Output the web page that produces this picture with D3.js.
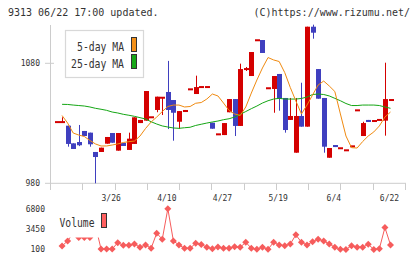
<!DOCTYPE html>
<html>
<head>
<meta charset="utf-8">
<script src="https://cdn.jsdelivr.net/npm/d3@7"></script>
<style>
  body { margin: 0; background: #fff; }
  svg { display: block; }
  text { font-family: "DejaVu Sans Mono", monospace; fill: #333; }
</style>
</head>
<body>
<script>
// candles, oldest first
var opens  = [1031,1031,1028,1013.3,1014.4,1023.6,1022.2,1006.1,1006.1,1013,1021.9,1007.2,1013.6,1007.8,1012.8,1030.2,1032.2,1035,1041.1,1051.3,
              1056.1,1049.4,1031.3,1039.4,1058.3,1054.4,1060.2,1060.2,1030.5,1020.8,1020.2,1039.2,1050.2,1027.8,1075.2,1069.4,1099.2,1099.4,1059.2,1058.6,
              1071.1,1051.1,1032.8,1005.5,1036.1,1027.2,1110.5,1075.2,1051.1,1001.3,1011.9,1009.2,1007.5,1010.8,1040.8,1019.4,1032.8,1031.9,1032.8,1032.2,1049.4];
var highs  = [1031,1035,1028,1013.3,1028.6,1023.6,1022.2,1006.1,1009.7,1018.6,1021.9,1021.9,1013.6,1022.2,1035,1032.8,1056.9,1035,1052.2,1051.3,
              1082,1049.4,1040.2,1041.1,1058.3,1069.7,1060.2,1060.2,1030.5,1020.8,1030.2,1050.2,1050.2,1079.7,1076.9,1089.4,1099.2,1099.4,1059.2,1069.4,
              1071.1,1051.1,1051.1,1051.1,1063.8,1110.5,1112.2,1075.2,1051.1,1009.4,1011.9,1009.2,1007.5,1010.8,1040.8,1031.3,1032.8,1031.9,1032.8,1080.5,1049.4];
var lows   = [1031,1031,1010.5,1008.6,1011,1019.4,1010.5,980,1006.1,1013,1013.8,1007.2,1011.1,1007.8,1012.8,1030.2,1032.2,1035,1039.2,1036.9,
              1025.2,1015.5,1025.5,1039.4,1058.3,1054.4,1060.2,1060.2,1025.5,1020.8,1020.2,1039.2,1019.4,1027.8,1073.6,1069.4,1099.2,1088.6,1059.2,1038.8,
              1040.5,1022.2,1032.8,1005.5,1027.2,1027.2,1100.5,1050.5,1005.5,1001.3,1010.2,1009.2,1007.5,1010.8,1040.8,1019.4,1031.1,1031.9,1032.8,1019.7,1049.4];
var closes = [1031,1031,1012.8,1008.6,1011.7,1019.4,1012.5,1001.9,1009.7,1018.6,1013.8,1021.9,1011.1,1017.2,1035,1032.8,1056.9,1035,1052.2,1051.3,
              1041.1,1038.8,1040.2,1041.1,1058.3,1060.2,1060.2,1060.2,1025.5,1020.8,1030.2,1050.2,1027.8,1075.2,1075.2,1089.4,1099.2,1088.6,1059.2,1069.4,
              1050.5,1024.4,1036.1,1036.1,1027.2,1110.5,1105.5,1050.5,1010.5,1009.4,1010.2,1009.2,1007.5,1010.8,1040.8,1030.2,1031.1,1031.9,1032.8,1050.2,1049.4];

// moving averages as drawn (first day has none)
var ma5  = [null,1036.5,1030.2,1021.9,1020.2,1019,1015.7,1012.8,1011.1,1011.1,1011.9,1012.8,1014,1014.7,1015.2,1019.4,1025.7,1031.1,1035.2,1039.8,
            1044,1045.2,1045.2,1043.6,1044,1046.7,1047.3,1050.2,1054.4,1052.8,1046.9,1040.7,1037.8,1036.5,1043.6,1055.2,1066.1,1076.1,1084.8,1082.8,
            1081.5,1072.3,1059.8,1048.6,1037.8,1045.2,1053.6,1061.9,1065.2,1061.1,1056.5,1037.8,1019.4,1009.7,1009.4,1014.8,1019.4,1022.8,1027.8,1035.2,1039.4];
var ma25 = [null,1045.8,1045.7,1045.2,1044.8,1044.4,1043.6,1042.5,1041.7,1040.8,1039.4,1038.6,1037.5,1036.7,1035.8,1034.7,1033.6,1031.3,1029.4,1027.8,
            1026.9,1026.1,1025.8,1026.3,1026.7,1028.2,1029.2,1030.2,1031.1,1031.9,1033,1033.8,1035.2,1037.5,1039.8,1042.2,1044.4,1046.9,1048.8,1050.2,
            1050.8,1050.2,1050.2,1050.2,1050.7,1051.9,1054,1054.4,1054,1052.8,1050.8,1048.8,1046.5,1044.8,1044.8,1045.2,1045.2,1045.2,1044.8,1043.6,1042.5];

var volumes = [null,600,1440,2800,2000,2000,2000,4000,100,100,100,1150,720,720,940,390,770,220,2730,1720,
               6800,1440,770,220,220,1050,850,400,150,430,220,220,490,390,1220,220,40,390,60,1220,
               770,650,940,2450,1220,770,1320,1720,1440,940,390,60,30,650,390,390,890,30,150,3670,770];

var tickIdx   = [10, 20, 30, 40, 50, 60];
var tickNames = ['3/26', '4/10', '4/27', '5/19', '6/4', '6/22'];
var priceTicks = [980, 1080];
var volTicks   = [6800, 3450, 100];

var upColor = '#d40000', downColor = '#3f3fbf';

var draw = function() {
  let width = 420, height = 259;
  let svg = d3.select('body').append('svg')
    .attr('width', width)
    .attr('height', height);

  let x  = d3.scaleLinear().domain([0, 60]).range([56.5, 390.5]);
  let y  = d3.scaleLinear().domain([980, 1080]).range([183.3, 63.3]);
  let yv = d3.scaleLinear().domain([100, 6800]).range([249, 208.7]);
  let grid = d3.scaleLinear().domain([0, 11]).range([50, 405]);

  // header
  svg.append('text').attr('x', 8).attr('y', 16).style('font-size', '10px')
    .text('9313 06/22 17:00 updated.');
  svg.append('text').attr('x', 410).attr('y', 16).attr('text-anchor', 'end').style('font-size', '10px')
    .text('(C)https://www.rizumu.net/');

  // axes
  svg.append('line').attr('x1', 50.5).attr('x2', 50.5).attr('y1', 25).attr('y2', 190)
    .attr('stroke', '#ccc');
  svg.append('line').attr('x1', 45).attr('x2', 406).attr('y1', y(980)).attr('y2', y(980))
    .attr('stroke', '#ccc');
  svg.selectAll('.gtick').data(d3.range(12)).enter().append('line')
    .attr('x1', d => Math.round(grid(d)) + 0.5).attr('x2', d => Math.round(grid(d)) + 0.5)
    .attr('y1', y(980)).attr('y2', 190)
    .attr('stroke', '#ccc');
  svg.append('line').attr('x1', 45).attr('x2', 54).attr('y1', y(1080)).attr('y2', y(1080))
    .attr('stroke', '#ccc');

  svg.selectAll('.ptick').data(priceTicks).enter().append('text')
    .attr('x', 40).attr('y', d => y(d) + 3)
    .attr('text-anchor', 'end').style('font-size', '8px')
    .text(d => d);

  svg.selectAll('.xtick').data(tickIdx).enter().append('text')
    .attr('x', d => x(d) - 1).attr('y', 201)
    .attr('text-anchor', 'middle').style('font-size', '8px')
    .text((d, i) => tickNames[i]);

  svg.selectAll('.vtick').data(volTicks).enter().append('text')
    .attr('x', 45).attr('y', d => yv(d) + 3)
    .attr('text-anchor', 'end').style('font-size', '8px')
    .text(d => d);

  // candles
  let idx = d3.range(opens.length);
  svg.selectAll('.wick').data(idx).enter().append('line')
    .attr('x1', d => Math.round(x(d)) + 0.5).attr('x2', d => Math.round(x(d)) + 0.5)
    .attr('y1', d => y(highs[d])).attr('y2', d => y(lows[d]))
    .attr('stroke', d => closes[d] >= opens[d] ? upColor : downColor);

  svg.selectAll('.body').data(idx).enter().append('rect')
    .attr('x', d => Math.round(x(d)) - 2)
    .attr('width', 5)
    .attr('y', d => {
      let t = y(Math.max(opens[d], closes[d])), b = y(Math.min(opens[d], closes[d]));
      return b - t < 2 ? (t + b) / 2 - 1 : t;
    })
    .attr('height', d => Math.max(2, y(Math.min(opens[d], closes[d])) - y(Math.max(opens[d], closes[d]))))
    .attr('fill', d => closes[d] >= opens[d] ? upColor : downColor);

  // moving averages
  let maLine = arr => d3.line()
    .defined(d => arr[d] != null)
    .x(d => x(d))
    .y(d => y(arr[d]))(idx);
  svg.append('path').attr('d', maLine(ma25)).attr('fill', 'none')
    .attr('stroke', '#14a614').attr('stroke-width', 1);
  svg.append('path').attr('d', maLine(ma5)).attr('fill', 'none')
    .attr('stroke', '#f08a10').attr('stroke-width', 1);

  // price legend
  let lg = svg.append('g');
  lg.append('rect').attr('x', 65.5).attr('y', 30.5).attr('width', 78).attr('height', 47)
    .attr('fill', '#fff').attr('stroke', '#d8d8d8').attr('stroke-width', 1.2);
  lg.append('text').attr('x', 124).attr('y', 50.5).attr('text-anchor', 'end')
    .attr('textLength', 47).attr('lengthAdjust', 'spacingAndGlyphs')
    .style('font-size', '12px').text('5-day MA');
  lg.append('text').attr('x', 124).attr('y', 67.5).attr('text-anchor', 'end')
    .attr('textLength', 53).attr('lengthAdjust', 'spacingAndGlyphs')
    .style('font-size', '12px').text('25-day MA');
  lg.append('rect').attr('x', 131.5).attr('y', 37.5).attr('width', 5).attr('height', 14)
    .attr('fill', '#f39019').attr('stroke', '#333');
  lg.append('rect').attr('x', 131.5).attr('y', 54.5).attr('width', 5).attr('height', 14)
    .attr('fill', '#18a818').attr('stroke', '#333');

  // volume
  let vIdx = idx.filter(d => volumes[d] != null);
  let volLine = d3.line().x(d => x(d)).y(d => yv(volumes[d]));
  svg.append('path').attr('d', volLine(vIdx)).attr('fill', 'none')
    .attr('stroke', '#f65c5c').attr('stroke-width', 1);
  svg.selectAll('.vdot').data(vIdx).enter().append('path')
    .attr('d', 'M0,-3.5L3.5,0L0,3.5L-3.5,0Z')
    .attr('transform', d => 'translate(' + x(d) + ',' + yv(volumes[d]) + ')')
    .attr('fill', '#f65c5c');

  // volume legend sits on top of the line
  svg.append('rect').attr('x', 55).attr('y', 204).attr('width', 57).attr('height', 33.5)
    .attr('fill', '#fff');
  svg.append('text').attr('x', 59.5).attr('y', 226.5)
    .attr('textLength', 35).attr('lengthAdjust', 'spacingAndGlyphs')
    .style('font-size', '12px').text('Volume');
  svg.append('rect').attr('x', 101.5).attr('y', 213.5).attr('width', 5).attr('height', 14)
    .attr('fill', '#ff6060').attr('stroke', '#333');
}

draw();
</script>
</body>
</html>
